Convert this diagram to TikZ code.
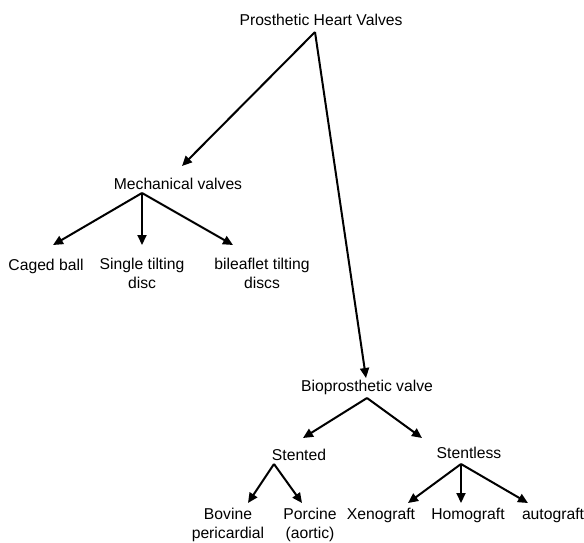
\documentclass[tikz,border=0pt]{standalone}
\usepackage{fontspec}
\setmainfont{Liberation Sans}
\usetikzlibrary{arrows.meta}
\begin{document}
\begin{tikzpicture}[x=1pt,y=-1pt,
  lbl/.style={inner sep=0pt,anchor=base,align=center,
    font=\fontsize{15.7}{18.5}\selectfont},
  arr/.style={line width=2pt,-{Triangle[length=10pt,width=9pt]}}]
\useasboundingbox (0,0) rectangle (584,542);

% labels (base anchor sits on the last line of a label)
\node[lbl] (root) at (321,25)  {Prosthetic Heart Valves};
\node[lbl] (mv)   at (178,189) {Mechanical valves};
\node[lbl] (cb)   at (46,270)  {Caged ball};
\node[lbl] (st)   at (142,288) {Single tilting\\disc};
\node[lbl] (bl)   at (262,288) {bileaflet tilting\\discs};
\node[lbl] (bp)   at (367,391) {Bioprosthetic valve};
\node[lbl] (sd)   at (299,460) {Stented};
\node[lbl] (sl)   at (469,458) {Stentless};
\node[lbl] (bv)   at (228,538) {Bovine\\pericardial};
\node[lbl] (pc)   at (310,538) {Porcine\\(aortic)};
\node[lbl] (xg)   at (381,519) {Xenograft};
\node[lbl] (hg)   at (468,519) {Homograft};
\node[lbl] (ag)   at (553,519) {autograft};

% branch points just below the parent labels
\coordinate (rootJ) at (315,32);
\coordinate (mvJ)   at (142,193);
\coordinate (bpJ)   at (367,398);
\coordinate (sdJ)   at (274,464);
\coordinate (slJ)   at (461,464);

\draw[arr] (rootJ) -- ([xshift=4pt,yshift=23pt]mv.base);
\draw[arr] (rootJ) -- ([xshift=-1pt,yshift=13pt]bp.base);

\draw[arr] (mvJ) -- ([xshift=7pt,yshift=25pt]cb.base);
\draw[arr] (mvJ) -- ([yshift=43pt]st.base);
\draw[arr] (mvJ) -- ([xshift=-29pt,yshift=43pt]bl.base);

\draw[arr] (bpJ) -- ([xshift=4pt,yshift=22pt]sd.base);
\draw[arr] (bpJ) -- ([xshift=-47pt,yshift=20pt]sl.base);

\draw[arr] (sdJ) -- ([xshift=20pt,yshift=35pt]bv.base);
\draw[arr] (sdJ) -- ([xshift=-8pt,yshift=35pt]pc.base);

\draw[arr] (slJ) -- ([xshift=27pt,yshift=16pt]xg.base);
\draw[arr] (slJ) -- ([xshift=-7pt,yshift=16pt]hg.base);
\draw[arr] (slJ) -- ([xshift=-25pt,yshift=16pt]ag.base);
\end{tikzpicture}
\end{document}
